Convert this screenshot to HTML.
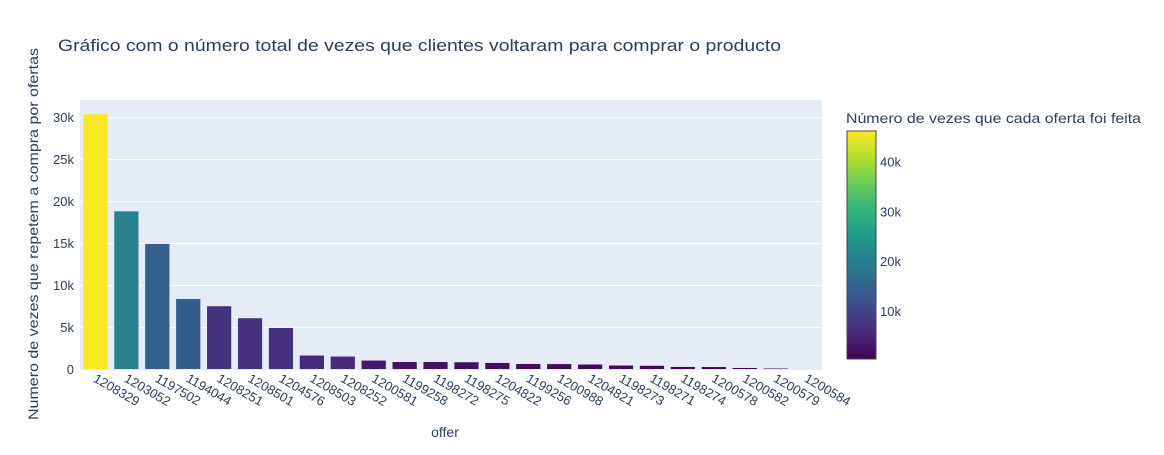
<!DOCTYPE html>
<html><head><meta charset="utf-8">
<style>
body{margin:0;background:#fff;}
svg text{font-family:"Liberation Sans",Arial,sans-serif;}
</style></head>
<body>
<svg id="chart" width="1164" height="450" xmlns="http://www.w3.org/2000/svg">
<rect width="1164" height="450" fill="#fff"/>
<text x="58" y="51" font-size="17" fill="#2a3f5f" textLength="723" lengthAdjust="spacingAndGlyphs">Gráfico com o número total de vezes que clientes voltaram para comprar o producto</text>
<rect x="80" y="100" width="742" height="270" fill="#e5ecf6"/>
<g id="grid"></g>
<g id="bars"></g>
<g id="xticks"></g>
<text x="445" y="437" font-size="14" fill="#2a3f5f" text-anchor="middle">offer</text>
<text transform="translate(38,234) rotate(-90)" font-size="14" fill="#2a3f5f" text-anchor="middle" textLength="372" lengthAdjust="spacingAndGlyphs">Numero de vezes que repetem a compra por ofertas</text>
<defs><linearGradient id="vir" x1="0" y1="1" x2="0" y2="0">
<stop offset="0" stop-color="#440154"/><stop offset="0.111" stop-color="#482878"/><stop offset="0.222" stop-color="#3e4989"/><stop offset="0.333" stop-color="#31688e"/><stop offset="0.444" stop-color="#26828e"/><stop offset="0.556" stop-color="#1f9e89"/><stop offset="0.667" stop-color="#35b779"/><stop offset="0.778" stop-color="#6ece58"/><stop offset="0.889" stop-color="#b5de2b"/><stop offset="1" stop-color="#fde725"/>
</linearGradient></defs>
<text x="846" y="123" font-size="14" fill="#2a3f5f" textLength="295" lengthAdjust="spacingAndGlyphs">Número de vezes que cada oferta foi feita</text>
<rect x="847" y="131" width="29" height="228" fill="url(#vir)" stroke="#444" stroke-width="1"/>
<g id="cticks"></g>
</svg>
<script>
const categories=["1208329","1203052","1197502","1194044","1208251","1208501","1204576","1208503","1208252","1200581","1199258","1198272","1198275","1204822","1199256","1200988","1204821","1198273","1198271","1198274","1200578","1200582","1200579","1200584"];
const repeatValues=[30440,18870,14980,8420,7550,6120,4960,1670,1550,1070,900,900,870,790,670,650,600,480,450,310,300,190,120,30];
const offerCounts=[46000,21000,14500,14000,7500,7000,7000,6000,6000,3500,2500,2500,2200,2000,1800,1800,1600,1500,1400,1200,1200,1000,800,500];
const yTicks=[0,5000,10000,15000,20000,25000,30000];
const yTickLabels=["0","5k","10k","15k","20k","25k","30k"];
const cTicks=[10000,20000,30000,40000];
const cTickLabels=["10k","20k","30k","40k"];
const NS="http://www.w3.org/2000/svg";
const px0=80,px1=822,py0=369.3,pyPer=41.93/5000;
const yS=v=>py0-v*pyPer;
const band=(px1-px0)/categories.length;
const xS=i=>px0+band*(i+0.5);
const cmin=500,cmax=46200,cy0=359,cy1=131;
const cS=v=>cy0-(v-cmin)/(cmax-cmin)*(cy0-cy1);
const vir=["#440154","#482878","#3e4989","#31688e","#26828e","#1f9e89","#35b779","#6ece58","#b5de2b","#fde725"];
function hex(h){return [1,3,5].map(i=>parseInt(h.substr(i,2),16));}
function color(v){let t=Math.max(0,Math.min(1,(v-cmin)/(cmax-cmin)))*(vir.length-1);let i=Math.min(Math.floor(t),vir.length-2),f=t-i;const a=hex(vir[i]),b=hex(vir[i+1]);return "rgb("+a.map((x,k)=>Math.round(x+(b[k]-x)*f)).join(",")+")";}
function mk(tag,attrs,parent){const e=document.createElementNS(NS,tag);for(const k in attrs)e.setAttribute(k,attrs[k]);parent.appendChild(e);return e;}
const grid=document.getElementById('grid');
yTicks.forEach((v,i)=>{
  if(v>0){const l=mk('line',{x1:px0,x2:px1,y1:yS(v),y2:yS(v),stroke:'#fff','stroke-width':1},grid);
  
  }
  const t=mk('text',{x:74,y:yS(v)+4.5,'font-size':13,fill:'#2a3f5f','text-anchor':'end'},grid);
  t.textContent=yTickLabels[i];
  
  
});
const bars=document.getElementById('bars'),xt=document.getElementById('xticks');
const bw=band*0.8;
categories.forEach((c,i)=>{
  const y=yS(repeatValues[i]);
  const r=mk('rect',{x:xS(i)-bw/2,y:y,width:bw,height:py0-y,fill:color(offerCounts[i]),stroke:'#e5ecf6','stroke-width':0.5},bars);
  
  
  const t=mk('text',{transform:`translate(${xS(i)-3},${381}) rotate(30)`,'font-size':13,fill:'#2a3f5f'},xt);
  t.textContent=c;
  
  
});
const ct=document.getElementById('cticks');
cTicks.forEach((v,i)=>{
  const t=mk('text',{x:880,y:cS(v)+4.5,'font-size':13,fill:'#2a3f5f'},ct);
  t.textContent=cTickLabels[i];
  
  
});
</script>
</body></html>
